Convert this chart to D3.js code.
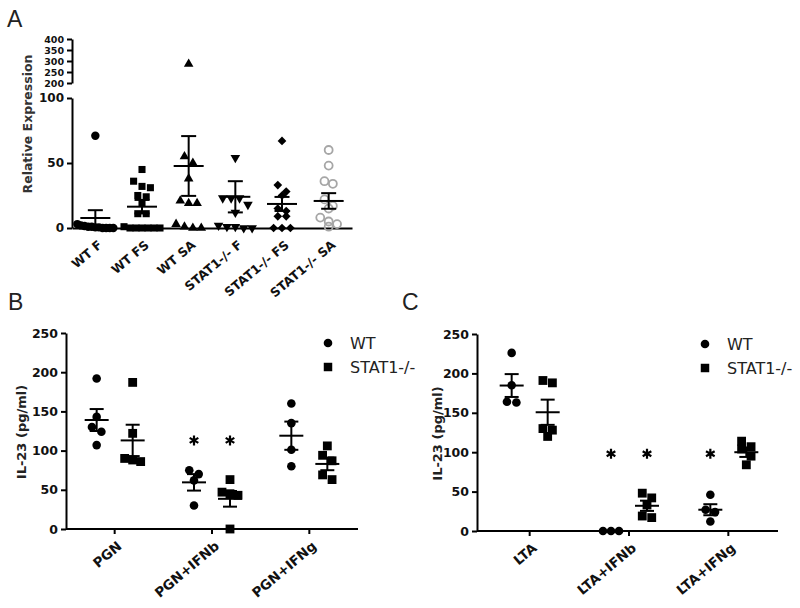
<!DOCTYPE html>
<html><head><meta charset="utf-8">
<script src="https://cdn.jsdelivr.net/npm/d3@7"></script>
<style>
html,body{margin:0;padding:0;background:#fff;}
svg{display:block;}
</style></head>
<body>
<svg id="chart" width="800" height="608"></svg>
<script>
// ---------- Panel A data ----------
const catsA = ["WT F", "WT FS", "WT SA", "STAT1-/- F", "STAT1-/- FS", "STAT1-/- SA"];
const wtF = [71, 3, 2, 1.5, 1, 1, 0.5, 0.5, 0, 0, 0, 0];
const wtFS = [45, 36, 32, 31, 25, 24, 19, 11, 11, 1, 0, 0, 0, 0, 0, 0];
const wtSA = [286, 55, 50, 38, 21, 19, 19, 3, 1, 0, 0];
const st1F = [54, 23, 23, 23, 18, 12, 2, 1, 1, 0, 0];
const st1FS = [67, 33, 28, 25, 15, 13, 9, 9, 0, 0, 0];
const st1SA = [60, 48, 36, 34, 22, 17, 15, 8, 5, 3, 1];
const meanA = [7.7, 16.4, 47.7, 24, 18.5, 20.8];
const semA = [6, 5.2, 23, 12, 5.4, 6];
const lowTicksA = [0, 50, 100];
const highTicksA = [200, 250, 300, 350, 400];

// ---------- Panel B data ----------
const groupsB = ["PGN", "PGN+IFNb", "PGN+IFNg"];
const wtB = [[192, 143, 130, 124, 107], [70, 75, 62, 30], [160, 135, 101, 80]];
const stB = [[187, 122, 90, 88, 86], [63, 47, 45, 43, 0], [106, 94, 87, 69, 63]];
const meanWtB = [139, 59.5, 119];
const semWtB = [14, 10.5, 18];
const meanStB = [113, 38.5, 83];
const semStB = [20, 10, 8];
const sigWtB = [false, true, false];
const sigStB = [false, true, false];
const starLevelB = 113;

// ---------- Panel C data ----------
const groupsC = ["LTA", "LTA+IFNb", "LTA+IFNg"];
const wtC = [[226, 185, 164, 163], [0, 0, 0], [46, 27, 24, 12]];
const stC = [[191, 188, 130, 128, 120], [48, 42, 33, 19, 17], [114, 107, 104, 95, 84]];
const meanWtC = [184.6, 0, 27];
const semWtC = [14.5, 0, 7];
const meanStC = [150.7, 32, 100];
const semStC = [16, 6.5, 6];
const sigWtC = [false, true, true];
const sigStC = [false, true, false];
const starLevelC = 98;

const ticksBC = [0, 50, 100, 150, 200, 250];
const seriesNames = ["WT", "STAT1-/-"];

// ---------- helpers ----------
const svg = d3.select("#chart");
const FONT = "DejaVu Sans, Arial, sans-serif";

function swarm(vals, yf, size, maxSpread) {
  const pts = vals.map(v => ({v, y: yf(v)})).sort((a, b) => a.y - b.y);
  const clusters = [];
  pts.forEach(p => {
    const c = clusters[clusters.length - 1];
    if (c && Math.abs(p.y - c[0].y) < size * 0.85) c.push(p); else clusters.push([p]);
  });
  clusters.forEach(c => {
    const k = c.length;
    const sp = k > 1 ? Math.min(size * 1.05, maxSpread / (k - 1)) : 0;
    c.forEach((p, i) => p.dx = (i - (k - 1) / 2) * sp);
  });
  return pts;
}

function errBar(g, cx, yf, mean, sem, meanHalf, capHalf) {
  const lw = 2;
  if (sem > 0) {
    g.append("line").attr("x1", cx).attr("x2", cx).attr("y1", yf(mean - sem)).attr("y2", yf(mean + sem))
      .attr("stroke", "#000").attr("stroke-width", lw);
    [mean - sem, mean + sem].forEach(v => g.append("line").attr("x1", cx - capHalf).attr("x2", cx + capHalf)
      .attr("y1", yf(v)).attr("y2", yf(v)).attr("stroke", "#000").attr("stroke-width", lw));
  }
  g.append("line").attr("x1", cx - meanHalf).attr("x2", cx + meanHalf).attr("y1", yf(mean)).attr("y2", yf(mean))
    .attr("stroke", "#000").attr("stroke-width", lw);
}

function styleAxis(g, fs) {
  g.selectAll("path.domain").attr("stroke", "#000").attr("stroke-width", 2);
  g.selectAll(".tick line").attr("stroke", "#000").attr("stroke-width", 2);
  g.selectAll(".tick text").attr("font-family", FONT).attr("font-weight", "bold")
    .attr("font-size", fs).attr("fill", "#111");
}

function panelLetter(x, y, t) {
  svg.append("text").attr("x", x).attr("y", y).text(t)
    .attr("font-family", "Liberation Sans, Arial, sans-serif").attr("font-size", 23).attr("fill", "#222");
}

function yLabel(x, y, t, fs, col) {
  svg.append("text").attr("transform", `translate(${x},${y}) rotate(-90)`)
    .attr("text-anchor", "middle").attr("dy", "0.35em").text(t)
    .attr("font-family", FONT).attr("font-weight", "bold").attr("font-size", fs).attr("fill", col || "#222");
}

const symPath = (type, size) => d3.symbol().type(type).size(size)();
const diamondSym = { draw(ctx, size) { const r = Math.sqrt(size / 2); ctx.moveTo(0, -r); ctx.lineTo(r, 0); ctx.lineTo(0, r); ctx.lineTo(-r, 0); ctx.closePath(); } };

// ================= Panel A =================
panelLetter(7, 27, "A");
const xA = d3.scaleBand().domain(catsA).range([72, 352]);
const yLow = d3.scaleLinear().domain([0, 100]).range([228, 98]);
const yHigh = d3.scaleLinear().domain([200, 400]).range([83, 39]);
const yA = v => v > 150 ? yHigh(v) : yLow(v);

const gA = svg.append("g");
const axLow = gA.append("g").attr("transform", "translate(72,0)")
  .call(d3.axisLeft(yLow).tickValues(lowTicksA).tickSize(5).tickSizeOuter(0).tickPadding(3));
styleAxis(axLow, 12);
const axHigh = gA.append("g").attr("transform", "translate(72,0)")
  .call(d3.axisLeft(yHigh).tickValues(highTicksA).tickSize(5).tickSizeOuter(0).tickPadding(3));
styleAxis(axHigh, 9.5);
axHigh.selectAll(".tick text").attr("dy", "0.36em");
const axXA = gA.append("g").attr("transform", "translate(0,228)")
  .call(d3.axisBottom(xA).tickSize(0).tickSizeOuter(0).tickPadding(0));
styleAxis(axXA, 12.5);
axXA.selectAll(".tick text").attr("text-anchor", "end")
  .attr("transform", "translate(5,15) rotate(-40)").attr("dy", "0.35em").attr("y", 0);

yLabel(28, 124, "Relative Expression", 12.5, "#333");

const seriesA = [wtF, wtFS, wtSA, st1F, st1FS, st1SA];
const symA = [
  {t: d3.symbolCircle, s: 56, fill: "#000", stroke: "none"},
  {t: d3.symbolSquare, s: 50, fill: "#000", stroke: "none"},
  {t: d3.symbolTriangle, s: 40, fill: "#000", stroke: "none"},
  {t: d3.symbolTriangle, s: 40, fill: "#000", stroke: "none", rot: 180},
  {t: diamondSym, s: 38, fill: "#000", stroke: "none"},
  {t: d3.symbolCircle, s: 50, fill: "none", stroke: "#a6a6a6"}
];
seriesA.forEach((vals, i) => {
  const cx = xA(catsA[i]) + xA.bandwidth() / 2;
  const pts = swarm(vals, yA, 8, 36);
  const sp = symA[i];
  gA.selectAll(null).data(pts).enter().append("path")
    .attr("d", symPath(sp.t, sp.s))
    .attr("transform", d => `translate(${cx + d.dx},${d.y})` + (sp.rot ? ` rotate(${sp.rot})` : ""))
    .attr("fill", sp.fill).attr("stroke", sp.stroke).attr("stroke-width", sp.stroke === "none" ? 0 : 1.8);
  errBar(gA, cx, yLow, meanA[i], semA[i], 15, 7.5);
});

// ================= Panels B & C =================
function drawPanel(opts) {
  const {groups, wt, st, meanWt, semWt, meanSt, semSt, sigWt, sigSt, starLevel,
         x0, x1, yAxisX, y0, y1, letterX, labelX, legX, legY} = opts;
  const g = svg.append("g");
  const x = d3.scaleBand().domain(groups).range([x0, x1]);
  const y = d3.scaleLinear().domain([0, 250]).range([y0, y1]);

  const ay = g.append("g").attr("transform", `translate(${yAxisX},0)`)
    .call(d3.axisLeft(y).tickValues(ticksBC).tickSize(5).tickSizeOuter(0).tickPadding(3));
  styleAxis(ay, 12.5);
  const ax = g.append("g").attr("transform", `translate(0,${y0})`)
    .call(d3.axisBottom(x).tickSize(5).tickSizeOuter(0).tickPadding(0));
  ax.select("path.domain").remove();
  g.append("line").attr("x1", yAxisX).attr("x2", x1).attr("y1", y0).attr("y2", y0)
    .attr("stroke", "#000").attr("stroke-width", 2);
  styleAxis(ax, 13.5);
  ax.selectAll(".tick text").attr("text-anchor", "end")
    .attr("transform", "translate(5,15) rotate(-40)").attr("dy", "0.35em").attr("y", 0);

  yLabel(labelX, (y0 + y1) / 2 + 1, "IL-23 (pg/ml)", 13);

  const off = 18;
  groups.forEach((grp, i) => {
    const c = x(grp) + x.bandwidth() / 2;
    [[wt[i], -off, d3.symbolCircle, 58, meanWt[i], semWt[i], sigWt[i]],
     [st[i], off, d3.symbolSquare, 78, meanSt[i], semSt[i], sigSt[i]]].forEach(([vals, o, t, s, m, se, sig]) => {
      const cx = c + o;
      const pts = swarm(vals, y, 9, 16);
      g.selectAll(null).data(pts).enter().append("path")
        .attr("d", symPath(t, s))
        .attr("transform", d => `translate(${cx + d.dx},${d.y})`).attr("fill", "#000");
      errBar(g, cx, y, m, se, 12, 7);
      if (sig) {
        g.append("path").attr("d", symPath(d3.symbolAsterisk, 70))
          .attr("transform", `translate(${cx},${y(starLevel)})`)
          .attr("fill", "none").attr("stroke", "#000").attr("stroke-width", 2.2);
      }
    });
  });

  // legend
  const leg = g.append("g");
  seriesNames.forEach((n, i) => {
    const ly = legY + i * 24;
    leg.append("path").attr("d", symPath(i === 0 ? d3.symbolCircle : d3.symbolSquare, i === 0 ? 58 : 72))
      .attr("transform", `translate(${legX},${ly})`).attr("fill", "#000");
    leg.append("text").attr("x", legX + 22).attr("y", ly).attr("dy", "0.36em").text(n)
      .attr("font-family", FONT).attr("font-size", 16).attr("fill", "#222");
  });
  panelLetter(letterX, 310, opts.letter);
}

drawPanel({
  letter: "B", groups: groupsB, wt: wtB, st: stB, meanWt: meanWtB, semWt: semWtB, meanSt: meanStB, semSt: semStB,
  sigWt: sigWtB, sigSt: sigStB, starLevel: starLevelB,
  x0: 66, x1: 358, yAxisX: 66, y0: 529, y1: 333, letterX: 8, labelX: 21, legX: 328, legY: 343
});
drawPanel({
  letter: "C", groups: groupsC, wt: wtC, st: stC, meanWt: meanWtC, semWt: semWtC, meanSt: meanStC, semSt: semStC,
  sigWt: sigWtC, sigSt: sigStC, starLevel: starLevelC,
  x0: 480, x1: 778, yAxisX: 477, y0: 531, y1: 334, letterX: 402, labelX: 437, legX: 705, legY: 344
});
</script>
</body></html>
